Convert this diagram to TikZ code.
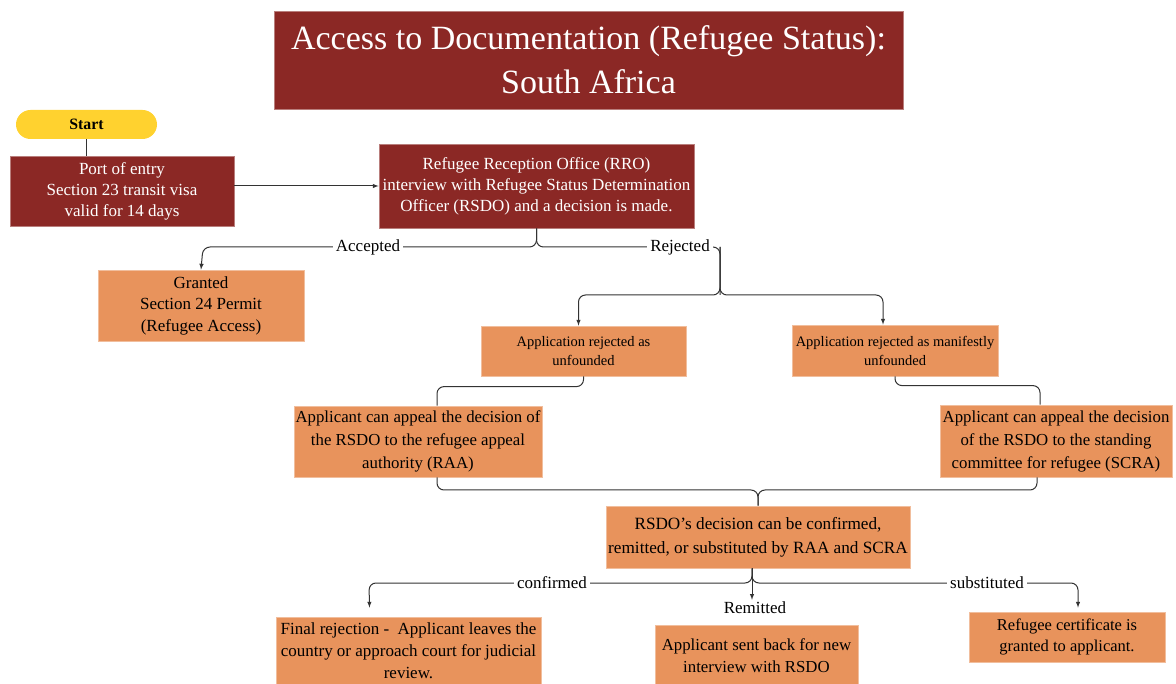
\documentclass[tikz,border=0pt]{standalone}
\usepackage{fontspec}
\setmainfont{Liberation Serif}
\usepackage{tikz}
\usetikzlibrary{calc, positioning, arrows.meta}

\definecolor{darkred}{HTML}{8B2825}
\definecolor{boxorange}{HTML}{E8935C}
\definecolor{startyellow}{HTML}{FFD22F}
\definecolor{linegray}{HTML}{333333}

\tikzset{
  redbox/.style={fill=darkred, draw=darkred!60!white, line width=0.8pt, text=white,
    align=center, inner sep=0pt, font=\fontsize{17}{21}\selectfont},
  orangebox/.style={fill=boxorange, draw=boxorange!60!white, line width=0.8pt, text=black,
    align=center, inner sep=0pt, font=\fontsize{17}{21.5}\selectfont},
  conn/.style={draw=linegray, line width=1pt, rounded corners=7pt},
  lbl/.style={fill=white, inner sep=3pt, font=\fontsize{17}{19}\selectfont}
}

\begin{document}
\begin{tikzpicture}[>=latex, x=1pt, y=1pt]
    \useasboundingbox (0,0) rectangle (1176,-684);

    % Titel
    \node[redbox, minimum width=629, minimum height=98, font=\fontsize{34}{44}\selectfont]
       (title) at (588.5,-60) {Access to Documentation (Refugee Status):\\South Africa};

    % Start und Einreise
    \node[fill=startyellow, rounded corners=14.5pt, minimum width=141, minimum height=29,
       inner sep=0pt, font=\fontsize{15.8}{17}\selectfont\bfseries] (start) at (86.5,-124.5) {Start};
    \node[redbox, minimum width=224, minimum height=70] (port) at (122,-191)
       {Port of entry\\Section 23 transit visa\\valid for 14 days};
    \node[redbox, minimum width=315, minimum height=84] (rro) at (536.5,-186)
       {Refugee Reception Office (RRO)\\interview with Refugee Status Determination\\Officer (RSDO) and a decision is made.};

    % Entscheidung
    \node[orangebox, minimum width=206, minimum height=71] (granted) at (201,-305.5)
       {Granted\\Section 24 Permit\\(Refugee Access)};
    \node[orangebox, minimum width=205, minimum height=50, font=\fontsize{14.5}{19}\selectfont]
       (unfounded) at (583.5,-351) {Application rejected as\\unfounded};
    \node[orangebox, minimum width=206, minimum height=51, font=\fontsize{14.5}{19}\selectfont]
       (manifest) at (895,-350.5) {Application rejected as manifestly\\unfounded};

    % Beschwerde
    \node[orangebox, minimum width=248, minimum height=71, font=\fontsize{16.8}{23}\selectfont]
       (raa) at (418,-441.5) {Applicant can appeal the decision of\\the RSDO to the refugee appeal\\authority (RAA)};
    \node[orangebox, minimum width=232, minimum height=72, font=\fontsize{16.8}{23}\selectfont]
       (scra) at (1056,-441) {Applicant can appeal the decision\\of the RSDO to the standing\\committee for refugee (SCRA)};
    \node[orangebox, minimum width=304, minimum height=62, font=\fontsize{17.2}{24}\selectfont]
       (rsdo) at (758,-537) {RSDO’s decision can be confirmed,\\remitted, or substituted by RAA and SCRA};

    % Ergebnisse
    \node[orangebox, minimum width=265, minimum height=68, font=\fontsize{17}{22}\selectfont]
       (final) at (408.5,-651)
       {Final rejection -\ \ Applicant leaves the\\country or approach court for judicial\\review.};
    \node[orangebox, minimum width=203, minimum height=62, font=\fontsize{16.8}{22}\selectfont]
       (sentback) at (756.5,-656) {Applicant sent back for new\\interview with RSDO};
    \node[orangebox, minimum width=196, minimum height=50, font=\fontsize{16.5}{21}\selectfont]
       (certificate) at (1067,-637) {Refugee certificate is\\granted to applicant.};

    % Hilfspunkte
    \coordinate (acc) at (203,-247);
    \coordinate (rjtop) at (720,-247);
    \coordinate (rjsplit) at (720,-295);
    \coordinate (mrg) at (758,-490);
    \coordinate (cfl) at (369,-583);
    \coordinate (sbr) at (1078,-583);
    \coordinate (rsout) at ([xshift=-6pt]rsdo.south);

    % Verbindungen
    \draw[conn] (start.south) -- (start.south |- port.north);
    \draw[conn, ->] (rro.west -| port.east) -- (rro.west);
    \draw[conn, ->] (rro.south) |- (acc) -- (granted.north);
    \draw[conn] (rro.south) |- (rjtop) -- (rjsplit);
    \draw[conn, ->] (rjtop) -- (rjsplit) -| ([xshift=-5pt]unfounded.north);
    \draw[conn, ->] (rjtop) -- (rjsplit) -| ([xshift=-12pt]manifest.north);
    \draw[conn] (unfounded.south) |- ($(raa.north)+(19,19)$) -- ([xshift=19pt]raa.north);
    \draw[conn] (manifest.south) |- ($(scra.north)+(-16,19)$) -- ([xshift=-16pt]scra.north);
    \draw[conn] ([xshift=19pt]raa.south) |- (mrg) -- (rsdo.north);
    \draw[conn] ([xshift=-19pt]scra.south) |- (mrg) -- (rsdo.north);

    % Labels
    \node[lbl] (accepted) at (368,-247) {Accepted};
    \node[lbl] (rejected) at (680,-247) {Rejected};

    \node[font=\fontsize{17}{19}\selectfont, inner sep=2pt] (remitted) at (755,-608) {Remitted};
    \draw[conn, ->] (rsout) |- (cfl) -- ([xshift=-39pt,yshift=9pt]final.north);
    \draw[conn, ->] (rsout) |- (sbr) -- ([xshift=11pt,yshift=4pt]certificate.north);
    \draw[conn, ->] (rsout) -- (remitted.north -| rsout);
    \node[lbl] (confirmed) at (552,-583) {confirmed};
    \node[lbl] (substituted) at (987,-583) {substituted};
\end{tikzpicture}
\end{document}
